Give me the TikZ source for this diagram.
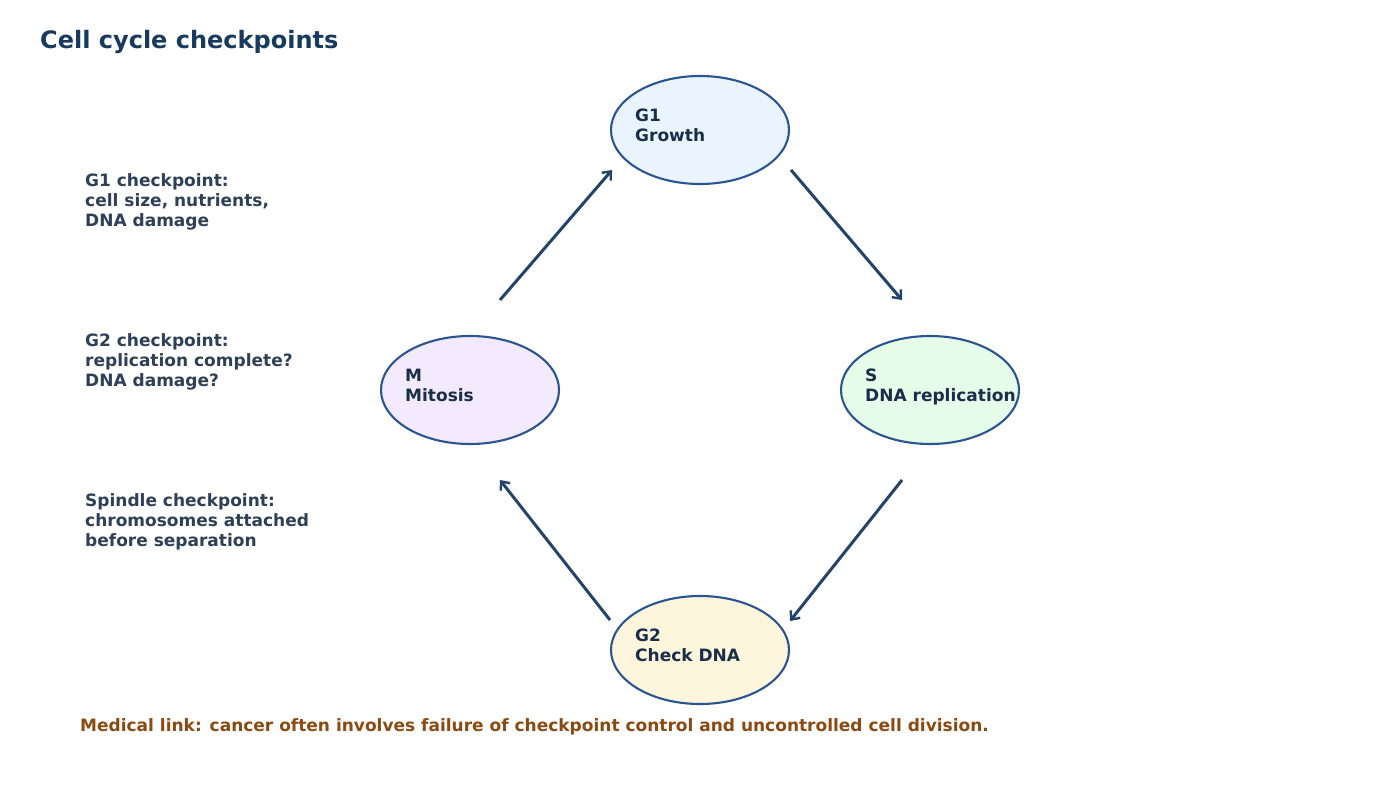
\documentclass[tikz,border=0pt]{standalone}
\usepackage{fontspec}
\setmainfont{DejaVu Sans}
\usetikzlibrary{arrows.meta,shapes.geometric}
\definecolor{titlec}{HTML}{173A5E}
\definecolor{notec}{HTML}{2E4057}
\definecolor{phasetxt}{HTML}{1A2E4A}
\definecolor{medc}{HTML}{8B4A12}
\definecolor{edgec}{HTML}{2A5590}
\definecolor{arrowc}{HTML}{23446A}
\definecolor{gonefill}{HTML}{EAF4FF}
\definecolor{sfill}{HTML}{E6FDE9}
\definecolor{mfill}{HTML}{F3EAFD}
\definecolor{gtwofill}{HTML}{FDF5DC}
\tikzset{
  phase/.style={ellipse, draw=edgec, line width=2.1pt, minimum width=178pt, minimum height=108pt, inner sep=0pt},
  phasetext/.style={anchor=base west, align=left, inner sep=0pt, text=phasetxt, font=\fontsize{17}{20}\selectfont\bfseries},
  notetext/.style={anchor=base west, align=left, inner sep=0pt, text=notec, font=\fontsize{17}{20}\selectfont\bfseries},
  cyclearrow/.style={draw=arrowc, line width=3pt, -{Straight Barb[length=7pt, width=12pt, line width=2.4pt]}},
}
\begin{document}
\begin{tikzpicture}[x=1pt, y=-1pt]
\useasboundingbox (0,0) rectangle (1400,800);
\fill[white] (0,0) rectangle (1400,800);
\node[anchor=base west, inner sep=0pt, text=titlec, font=\fontsize{24}{28}\selectfont\bfseries] (title) at (40,48.5) {Cell cycle checkpoints};
% phases
\node[phase, fill=gonefill] (g1) at (700,130) {};
\node[phase, fill=sfill] (s) at (930,390) {};
\node[phase, fill=mfill] (m) at (470,390) {};
\node[phase, fill=gtwofill] (g2) at (700,650) {};
% (base anchor of a multi-line node = baseline of its last line)
\node[phasetext] (g1t) at (635,141) {G1\\Growth};
\node[phasetext] (st) at (865,401) {S\\DNA replication};
\node[phasetext] (mt) at (405,401) {M\\Mitosis};
\node[phasetext] (g2t) at (635,661) {G2\\Check DNA};
% notes
\node[notetext] (n1) at (85,226) {G1 checkpoint:\\cell size, nutrients,\\DNA damage};
\node[notetext] (n2) at (85,386) {G2 checkpoint:\\replication complete?\\DNA damage?};
\node[notetext] (n3) at (85,546) {Spindle checkpoint:\\chromosomes attached\\before separation};
\node[anchor=base west, inner sep=0pt, text=medc, font=\fontsize{17}{20}\selectfont\bfseries] (med) at (80,731) {Medical link: cancer often involves failure of checkpoint control and uncontrolled cell division.};
% arrow ends
\coordinate (a1s) at (500,300); \coordinate (a1e) at (612,170);
\coordinate (a2s) at (791,170); \coordinate (a2e) at (902,300);
\coordinate (a3s) at (902,480); \coordinate (a3e) at (790,621);
\coordinate (a4s) at (610,620); \coordinate (a4e) at (500,480);
\draw[cyclearrow] (a1s) -- (a1e);
\draw[cyclearrow] (a2s) -- (a2e);
\draw[cyclearrow] (a3s) -- (a3e);
\draw[cyclearrow] (a4s) -- (a4e);
\end{tikzpicture}
\end{document}
